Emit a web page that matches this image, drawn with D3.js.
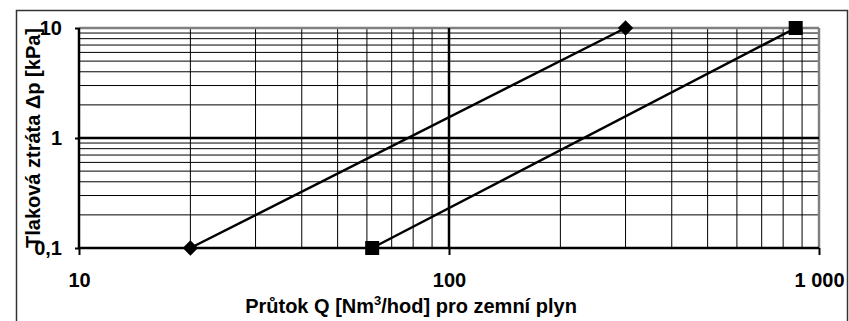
<!DOCTYPE html>
<html><head><meta charset="utf-8">
<script src="https://cdn.jsdelivr.net/npm/d3@7"></script>
<style>
html,body{margin:0;padding:0;background:#fff;}
svg{display:block;}
text{font-family:"Liberation Sans",Arial,sans-serif;font-weight:bold;fill:#000;}
</style></head><body>
<svg id="c" width="849" height="321"></svg>
<script>
// Data
const seriesDiamondX = [20, 300];
const seriesDiamondY = [0.1, 10];
const seriesSquareX = [62, 865];
const seriesSquareY = [0.1, 10];
const xTickValues = [10, 100, 1000];
const xTickLabels = ["10", "100", "1 000"];
const yTickValues = [0.1, 1, 10];
const yTickLabels = ["0,1", "1", "10"];
const xTitle = "Průtok Q [Nm";
const yTitle = "Tlaková ztráta Δp [kPa]";

const svg = d3.select("#c");
const x = d3.scaleLog().domain([10, 1000]).range([79, 819]);
const y = d3.scaleLog().domain([0.1, 10]).range([248, 28]);

// outer border
svg.append("rect").attr("x", 16.5).attr("y", 10.5).attr("width", 831).attr("height", 330)
  .attr("fill", "none").attr("stroke", "#333").attr("stroke-width", 1.5);

// minor grid
const minorX = [];
[10, 100].forEach(d => { for (let k = 2; k <= 9; k++) minorX.push(d * k); });
const minorY = [];
[0.1, 1].forEach(d => { for (let k = 2; k <= 9; k++) minorY.push(+(d * k).toFixed(2)); });

const g = svg.append("g");
g.selectAll(".vx").data(minorX).enter().append("line")
  .attr("x1", d => x(d)).attr("x2", d => x(d)).attr("y1", y(10)).attr("y2", y(0.1))
  .attr("stroke", "#000").attr("stroke-width", 1);
g.selectAll(".hy").data(minorY).enter().append("line")
  .attr("y1", d => y(d)).attr("y2", d => y(d)).attr("x1", x(10)).attr("x2", x(1000))
  .attr("stroke", "#000").attr("stroke-width", 1);

// plot area border (gray) top & right
g.append("line").attr("x1", x(10)).attr("x2", x(1000)).attr("y1", y(10)).attr("y2", y(10))
  .attr("stroke", "#808080").attr("stroke-width", 2.5);
g.append("line").attr("x1", x(1000)).attr("x2", x(1000)).attr("y1", y(10)).attr("y2", y(0.1))
  .attr("stroke", "#808080").attr("stroke-width", 2.5);

// major grid
g.append("line").attr("x1", x(100)).attr("x2", x(100)).attr("y1", y(10)).attr("y2", y(0.1))
  .attr("stroke", "#000").attr("stroke-width", 2.5);
g.append("line").attr("x1", x(10)).attr("x2", x(1000)).attr("y1", y(1)).attr("y2", y(1))
  .attr("stroke", "#000").attr("stroke-width", 2.5);

// axes
const xAxis = d3.axisBottom(x).tickValues(xTickValues).tickFormat((d, i) => xTickLabels[i])
  .tickSizeInner(7).tickSizeOuter(0).tickPadding(18);
const yAxis = d3.axisLeft(y).tickValues(yTickValues).tickFormat((d, i) => yTickLabels[i])
  .tickSizeInner(4).tickSizeOuter(0).tickPadding(13);

const gx = svg.append("g").attr("transform", `translate(0,${y(0.1)})`).call(xAxis);
gx.attr("font-family", null).attr("font-size", null);
gx.select(".domain").attr("stroke", "#000").attr("stroke-width", 2.5).attr("d", `M${x(10)},0H${x(1000)}`);
gx.selectAll(".tick line").attr("stroke", "#000").attr("stroke-width", 2).attr("y1", 0);
gx.selectAll(".tick text").style("font-size", "20px").style("font-weight", "bold").attr("fill", "#000");

const gy = svg.append("g").attr("transform", `translate(${x(10)},0)`).call(yAxis);
gy.attr("font-family", null).attr("font-size", null);
gy.select(".domain").attr("stroke", "#000").attr("stroke-width", 2.5).attr("d", `M0,${y(10)}V${y(0.1)}`);
gy.selectAll(".tick line").attr("stroke", "#000").attr("stroke-width", 2);
gy.selectAll(".tick text").style("font-size", "20px").style("font-weight", "bold").attr("fill", "#000");

// series lines
const line = d3.line().x(d => x(d[0])).y(d => y(d[1]));
const dData = seriesDiamondX.map((v, i) => [v, seriesDiamondY[i]]);
const sData = seriesSquareX.map((v, i) => [v, seriesSquareY[i]]);
svg.append("path").attr("d", line(dData)).attr("fill", "none").attr("stroke", "#000").attr("stroke-width", 2.5);
svg.append("path").attr("d", line(sData)).attr("fill", "none").attr("stroke", "#000").attr("stroke-width", 2.5);

// markers
svg.selectAll(".dm").data(dData).enter().append("path")
  .attr("d", d3.symbol().type(d3.symbolDiamond2).size(150))
  .attr("transform", d => `translate(${x(d[0])},${y(d[1])})`).attr("fill", "#000");
svg.selectAll(".sq").data(sData).enter().append("rect")
  .attr("x", d => x(d[0]) - 7).attr("y", d => y(d[1]) - 7).attr("width", 14).attr("height", 14)
  .attr("fill", "#000");

// titles
const xt = svg.append("text").attr("x", 411).attr("y", 313).attr("text-anchor", "middle").style("font-size", "20px");
xt.append("tspan").text(xTitle);
xt.append("tspan").text("3").style("font-size", "13px").attr("dy", -8);
xt.append("tspan").text("/hod] pro zemní plyn").attr("dy", 8);

svg.append("text").attr("transform", `translate(40,${(y(10) + y(0.1)) / 2}) rotate(-90)`)
  .attr("text-anchor", "middle").style("font-size", "20px").text(yTitle);
</script>
</body></html>
